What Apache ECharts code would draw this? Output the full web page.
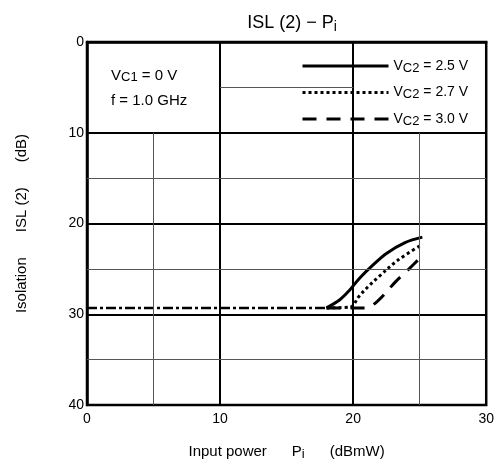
<!DOCTYPE html>
<html><head><meta charset="utf-8">
<script src="https://cdn.jsdelivr.net/npm/echarts@6/dist/echarts.min.js"></script>
<style>html,body{margin:0;padding:0;background:#fff}#c{width:497px;height:475px}</style>
</head><body><div id="c"></div>
<script>
// ---- data ----
const seriesNames = ['VC2 = 2.5 V', 'VC2 = 2.7 V', 'VC2 = 3.0 V'];
const commonFlat = [[0, 29.3], [18, 29.3]];
const vc25 = [[18, 29.3], [19, 28.4], [19.7, 27.4], [20.5, 26.0], [21.4, 24.7], [22.5, 23.3], [23.9, 22.1], [25.2, 21.5]];
const vc27 = [[18, 29.3], [19.8, 29.2], [20.4, 28.1], [21.1, 27.0], [21.9, 25.9], [23.4, 24.0], [25.2, 22.3]];
const vc30 = [[18, 29.3], [20.9, 29.3], [21.8, 28.6], [23.2, 26.4], [24.2, 25.0], [25.1, 23.7]];
const xTicks = [0, 10, 20, 30];
const yTicks = [0, 10, 20, 30, 40];
const minorXPartial = [5, 25];  // from y=10 down
const minorYFull = [15, 25, 35];
const minorYBox = 5;            // only between x=10..20

const font = 'Liberation Sans, Arial, sans-serif';
const chart = echarts.init(document.getElementById('c'));

const thin = { color: '#555', width: 1, type: 'solid' };
const gridLines = [];
minorXPartial.forEach(x => gridLines.push([{ coord: [x, 10] }, { coord: [x, 40] }]));
minorYFull.forEach(y => gridLines.push([{ coord: [0, y] }, { coord: [30, y] }]));
gridLines.push([{ coord: [10, minorYBox] }, { coord: [20, minorYBox] }]);

const legRich = { a: { fontSize: 14, fontFamily: font, color: '#000' }, s: { fontSize: 13, padding: [4, 0, 0, 0], fontFamily: font, color: '#000' } };
const styles = [
  { color: '#000', width: 3, type: 'solid' },
  { color: '#000', width: 3, type: [3, 3] },
  { color: '#000', width: 3, type: [14, 10] }
];

chart.setOption({
  animation: false,
  backgroundColor: '#fff',
  title: {
    text: '{a|ISL (2) − P}{s|i}',
    left: 287, top: 7, textAlign: 'center',
    textStyle: { fontWeight: 'normal', rich: { a: { fontSize: 18, fontWeight: 'normal', fontFamily: font, color: '#000' }, s: { fontSize: 14, fontWeight: 'normal', padding: [8, 0, 0, 0], fontFamily: font, color: '#000' } } }
  },
  grid: { left: 87, right: 9, top: 42, bottom: 70, show: true, borderColor: '#000', borderWidth: 2.5, backgroundColor: 'transparent' },
  legend: {
    orient: 'vertical', left: 296, top: 54,
    itemWidth: 86, itemHeight: 14, itemGap: 11,
    itemStyle: { opacity: 0 },
    data: seriesNames.map((n, i) => ({ name: n, lineStyle: styles[i], itemStyle: { opacity: 0 } })),
    formatter: n => '{a|V}{s|C2}{a|' + n.slice(3) + '}',
    textStyle: { rich: legRich }
  },
  xAxis: {
    type: 'value', min: 0, max: 30, interval: 10,
    axisLine: { show: true, lineStyle: { color: '#000', width: 2.5 } },
    axisTick: { show: false },
    axisLabel: { color: '#000', fontSize: 14, fontFamily: font, margin: 7 },
    splitLine: { show: true, lineStyle: { color: '#000', width: 2 } },
    name: '{a|Input power      P}{s|i}{a|      (dBmW)}',
    nameLocation: 'middle', nameGap: 37,
    nameTextStyle: { rich: { a: { fontSize: 15, fontFamily: font, color: '#000' }, s: { fontSize: 13, padding: [6, 0, 0, 0], fontFamily: font, color: '#000' } } }
  },
  yAxis: {
    type: 'value', min: 0, max: 40, interval: 10, inverse: true,
    axisLine: { show: true, lineStyle: { color: '#000', width: 2.5 } },
    axisTick: { show: false },
    axisLabel: { color: '#000', fontSize: 14, fontFamily: font, margin: 3, padding: [6, 0, 0, 0] },
    splitLine: { show: true, lineStyle: { color: '#000', width: 2 } },
    name: 'Isolation      ISL (2)      (dB)',
    nameLocation: 'middle', nameGap: 58, nameRotate: 90,
    nameTextStyle: { fontSize: 15, fontFamily: font, color: '#000' }
  },
  graphic: [
    { type: 'text', left: 111, top: 68, style: { text: '{a|V}{s|C1}{a| = 0 V}', rich: { a: { fontSize: 15, fontFamily: font, color: '#000' }, s: { fontSize: 13, padding: [4, 0, 0, 0], fontFamily: font, color: '#000' } } } },
    { type: 'text', left: 111, top: 93, style: { text: 'f = 1.0 GHz', fontSize: 15, fontFamily: font, fill: '#000' } }
  ],
  series: [
    { name: 'grid', type: 'line', data: [], silent: true,
      markLine: { silent: true, symbol: 'none', label: { show: false }, lineStyle: thin, data: gridLines } },
    { name: 'flat', type: 'line', data: commonFlat, symbol: 'none',
      lineStyle: { color: '#000', width: 2.5, type: [10, 3, 3, 3] } },
    { name: seriesNames[0], type: 'line', data: vc25, symbol: 'none', smooth: 0.35, lineStyle: styles[0], itemStyle: { color: '#000' } },
    { name: seriesNames[1], type: 'line', data: vc27, symbol: 'none', smooth: 0.35, lineStyle: styles[1], itemStyle: { color: '#000' } },
    { name: seriesNames[2], type: 'line', data: vc30, symbol: 'none', smooth: 0.35, lineStyle: styles[2], itemStyle: { color: '#000' } }
  ]
});
</script></body></html>
